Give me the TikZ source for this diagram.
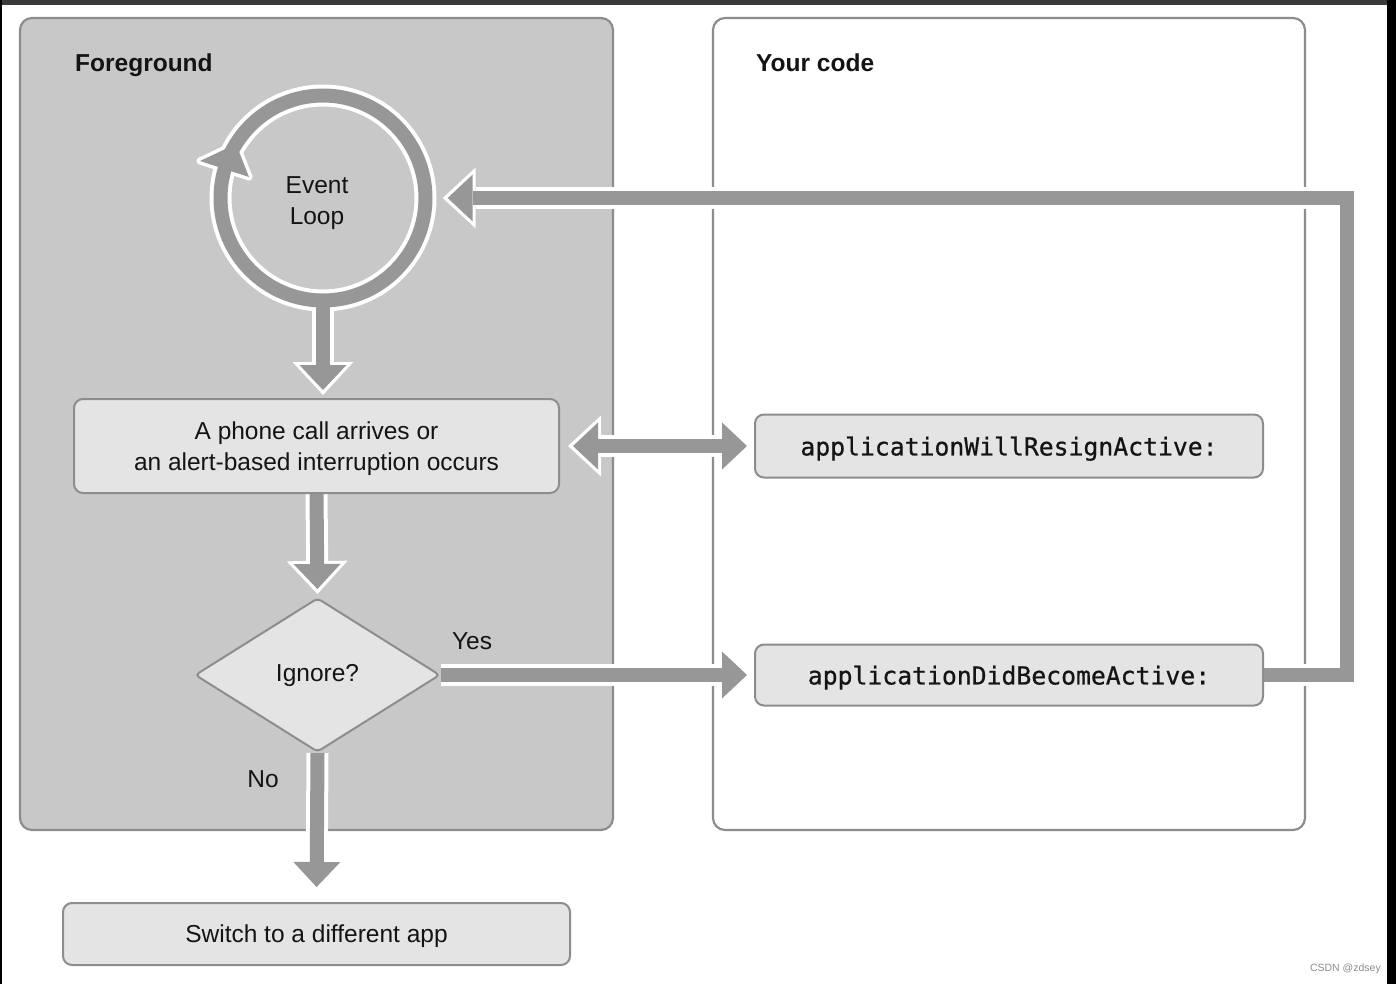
\documentclass[tikz,border=0pt]{standalone}
\usepackage{fontspec}
\setmainfont{Liberation Sans}
\newfontfamily\codefont{DejaVu Sans Mono}[FakeBold=0.7]
\usetikzlibrary{shapes.geometric,arrows.meta}
\pgfdeclarelayer{bg}
\pgfdeclarelayer{arr}
\pgfsetlayers{bg,arr,main}
\definecolor{panelgray}{HTML}{C8C8C8}
\definecolor{boxfill}{HTML}{E4E4E4}
\definecolor{edgegray}{HTML}{8D8D8D}
\definecolor{arrowgray}{HTML}{979797}
\definecolor{ink}{HTML}{141414}
\definecolor{stripgray}{HTML}{3A3A3A}
\tikzset{
  gtip/.tip={Triangle[length=25pt,width=47pt,line width=0pt]},
  wtip/.tip={Triangle[length=33pt,width=61pt,line width=0pt]},
}
\begin{document}
\begin{tikzpicture}[x=1pt,y=-1pt,
  txt/.style={font=\fontsize{24.5}{31}\selectfont, text=ink, align=center, inner sep=0pt},
  hdr/.style={font=\bfseries\fontsize{24.5}{30}\selectfont, text=ink, inner sep=0pt, anchor=west, text depth=0pt},
  box/.style={draw=edgegray, line width=2pt, fill=boxfill, rounded corners=9pt, inner sep=0pt, txt, text depth=0pt},
  codebox/.style={box, font=\codefont\fontsize{24.75}{30}\selectfont},
  panel/.style={draw=edgegray, line width=2.2pt, rounded corners=12pt},
  under/.style={draw=white, line width=22pt, line join=miter, -wtip},
  over/.style={draw=arrowgray, line width=14pt, line join=miter, -gtip},
  underboth/.style={draw=white, line width=22pt, wtip-wtip},
  overboth/.style={draw=arrowgray, line width=14pt, gtip-gtip},
]
\useasboundingbox (0,0) rectangle (1396,984);

% nodes
\node[circle, minimum size=205pt, inner sep=0pt] (loop) at (323,198) {};
\node[txt, text depth=0pt] (looptxt) at (317,201) {Event\\Loop};
\node[box, minimum width=485pt, minimum height=94pt] (phone) at (316.5,446)
  {A phone call arrives or\\an alert-based interruption occurs};
\node[diamond, draw=edgegray, line width=2pt, fill=boxfill, rounded corners=4pt,
  inner sep=0pt, aspect=1.59, minimum width=245pt, minimum height=154pt, txt]
  (ignore) at (317.5,675) {Ignore?};
\node[box, minimum width=507pt, minimum height=62pt] (switch) at (316.5,934)
  {Switch to a different app};
\node[codebox, minimum width=508pt, minimum height=63pt] (will) at (1009,446)
  {applicationWillResignActive:};
\node[codebox, minimum width=508pt, minimum height=61pt] (did) at (1009,675)
  {applicationDidBecomeActive:};
\coordinate (turn) at (1347,198);

\node[hdr] (fg) at (75,63) {Foreground};
\node[hdr] (yc) at (756,63) {Your code};
\node[txt] (yes) at (472,641) {Yes};
\node[txt] (no) at (263,779) {No};
\node[font=\fontsize{10.5}{12}\selectfont, text=black!45, anchor=east, inner sep=0pt]
  (wm) at (1381,969) {CSDN @zdsey};

% background, panels and frame
\begin{pgfonlayer}{bg}
  \fill[white] (0,0) rectangle (1396,984);
  \draw[panel, fill=panelgray] (20,18) rectangle (613,830);
  \draw[panel, fill=white] (713,18) rectangle (1305,830);
  \fill[stripgray] (0,0) rectangle (1396,5);
  \fill[black] (1387,0) rectangle (1396,984);
  \fill[black] (0,0) rectangle (1.5,984);
\end{pgfonlayer}

% arrows
\begin{pgfonlayer}{arr}
  % white outlines
  \draw[white, line width=22pt] (loop.center) circle[radius=102.5];
  \filldraw[white, line width=7pt, line join=round, shift={(loop.center)}]
    (-123,-37) -- (-74,-21) -- (-87,-54) -- cycle;
  \draw[under, shorten >=3pt] (loop.south) -- (loop.south |- phone.north);
  \draw[under, shorten >=3pt] (phone.south) -- (ignore.north);
  \draw[under, shorten >=10pt] (ignore.south) -- (switch.north);
  \draw[under, shorten >=2pt] (ignore.east) -- (did.west);
  \draw[underboth, shorten <=8pt, shorten >=2pt] (phone.east) -- (will.west);
  \draw[under, shorten >=17pt] (did.east) -| (turn) -- (loop.east);
  % gray bodies
  \draw[arrowgray, line width=14pt] (loop.center) circle[radius=102.5];
  \fill[arrowgray, shift={(loop.center)}]
    (-123,-37) -- (-74,-21) -- (-87,-54) -- cycle;
  \draw[over, shorten >=8pt] (loop.south) -- (loop.south |- phone.north);
  \draw[over, shorten >=8pt] (phone.south) -- (ignore.north);
  \draw[over, shorten >=15pt] (ignore.south) -- (switch.north);
  \draw[over, shorten >=7pt] (ignore.east) -- (did.west);
  \draw[overboth, shorten <=13pt, shorten >=7pt] (phone.east) -- (will.west);
  \draw[over, shorten >=22pt] (did.east) -| (turn) -- (loop.east);
\end{pgfonlayer}
\end{tikzpicture}
\end{document}
